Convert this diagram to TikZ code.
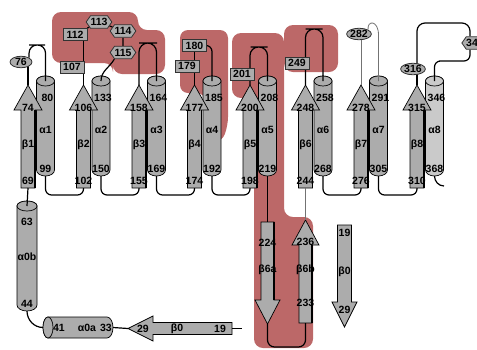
\documentclass[tikz,border=0pt]{standalone}
\usepackage{fontspec}
\setmainfont{Liberation Sans}
\usetikzlibrary{shapes.geometric,shapes.symbols,calc}

\definecolor{hgray}{RGB}{172,172,172}
\definecolor{lgray}{RGB}{202,202,202}
\definecolor{loopred}{RGB}{188,104,104}

\pgfdeclarelayer{bg}
\pgfdeclarelayer{shapes}
\pgfdeclarelayer{links}
\pgfsetlayers{bg,shapes,links,main}

\tikzset{
  lbl/.style={inner sep=0pt,font=\fontsize{10.5}{11}\selectfont\bfseries},
  resbox/.style={lbl,draw=black!80,fill=hgray,line width=0.8pt,minimum width=24pt,minimum height=12pt},
  resell/.style={lbl,ellipse,draw=black!80,fill=hgray,line width=0.8pt,minimum width=22pt,minimum height=11.5pt},
  reshex/.style={lbl,signal,signal to=east and west,signal pointer angle=110,draw=black!80,fill=hgray,line width=0.8pt,minimum width=25pt,minimum height=12.5pt},
  link/.style={line width=1.2pt},
  thinlink/.style={line width=0.8pt,black!55},
  shapeline/.style={draw=black,line width=0.7pt}
}

% helix: name, x, top, bottom, half width, colour
\newcommand\helixv[6]{%
  \filldraw[fill=#6,shapeline] ({#2-#5},#3) -- ({#2-#5},#4) arc[start angle=180,end angle=360,x radius=#5pt,y radius=6pt]
    -- ({#2+#5},#3) arc[start angle=0,end angle=180,x radius=#5pt,y radius=5pt] -- cycle;
  \filldraw[fill=#6,shapeline] (#2,#3) ellipse[x radius=#5pt,y radius=5pt];
  \coordinate (#1-top) at (#2,#3);
  \coordinate (#1-bot) at (#2,{#4+6});
}
% strand: name, x, tip, head base, tail, head half width, body half width
\newcommand\strand[7]{%
  \filldraw[fill=hgray,shapeline] (#2,#3) -- ({#2+#6},#4) -- ({#2+#7},#4) -- ({#2+#7},#5)
    -- ({#2-#7},#5) -- ({#2-#7},#4) -- ({#2-#6},#4) -- cycle;
  \draw[line width=1.6pt] ({#2+#7},#4) -- ({#2+#7},#5);
  \coordinate (#1-tip) at (#2,#3);
  \coordinate (#1-tail) at (#2,#5);
}

\begin{document}
\begin{tikzpicture}[x=1pt,y=-1pt]
\useasboundingbox (0,0) rectangle (477,349);

% loop regions
\begin{pgfonlayer}{bg}
\fill[loopred,rounded corners=9pt] (52,12) -- (138,12) -- (138,30) -- (165,30) -- (165,74) -- (113,74) -- (113,63) -- (52,63) -- cycle;
\fill[loopred,rounded corners=8pt] (180,30) -- (228,30) -- (228,125) -- (222,142) -- (205,142) -- (205,93) -- (180,93) -- cycle;
\fill[loopred,rounded corners=9pt] (232,33) -- (284,33) -- (284,217) -- (313,217) -- (313,348) -- (254,348) -- (254,98) -- (232,98) -- cycle;
\fill[loopred,rounded corners=9pt] (284,25) -- (338,25) -- (338,72) -- (284,72) -- cycle;
\end{pgfonlayer}

% beta-alpha units
\foreach \i/\xs/\sn/\sc/\hn/\hc/\col in {1/28/69/74/80/99/hgray,2/83.5/102/106/133/150/hgray,
    3/139/155/158/164/169/hgray,4/194.5/174/177/185/192/hgray,5/250/198/200/208/219/hgray,
    6/305.5/244/248/258/268/hgray,7/361/276/278/291/305/hgray,8/417/310/315/346/368/lgray}{
  \pgfmathsetmacro\xh{\xs+17.5}
  \begin{pgfonlayer}{shapes}
    \helixv{a\i}{\xh}{81}{170}{9}{\col}
    \strand{b\i}{\xs}{85}{110}{188}{14}{7}
  \end{pgfonlayer}
  \node[lbl] (b\i-c) at (\xs,107.5) {\sc};
  \node[lbl] (a\i-n) at ({\xh+2},97.5) {\hn};
  \node[lbl] (a\i-l) at (\xh,130) {α\i};
  \node[lbl] (b\i-l) at (\xs,145) {β\i};
  \node[lbl] (a\i-c) at (\xh,169) {\hc};
  \node[lbl] (b\i-n) at (\xs,181) {\sn};
}

% N-terminal and inserted elements
\begin{pgfonlayer}{shapes}
\helixv{a0b}{27}{206}{305}{10}{hgray}
\filldraw[fill=hgray,shapeline] (48,317) -- (107,317) arc[start angle=90,end angle=-90,x radius=6pt,y radius=10.5pt]
  -- (48,338) arc[start angle=270,end angle=90,x radius=5pt,y radius=10.5pt] -- cycle;
\filldraw[fill=hgray,shapeline] (48,327.5) ellipse[x radius=5pt,y radius=10.5pt];
\coordinate (a0a-left) at (43,327.5);
\coordinate (a0a-right) at (113,327.5);
\filldraw[fill=hgray,shapeline] (128,328.5) -- (153,316) -- (153,322.5) -- (232,322.5) -- (232,334.5) -- (153,334.5) -- (153,341) -- cycle;
\draw[line width=1.6pt] (153,322.5) -- (232,322.5);
\coordinate (b0h-tip) at (128,328.5);
\coordinate (b0h-tail) at (232,328.5);
\coordinate (b0h-end) at (242,328.5);
\strand{b6a}{267.5}{324}{300}{222}{12.5}{6.5}
\strand{b6b}{305.5}{220}{245}{323}{13.5}{6.5}
\strand{b0v}{344.5}{327}{302}{225}{12.5}{7}
\coordinate (a8-end) at (444,186);
\end{pgfonlayer}

\node[lbl] (a0b-n) at (27,222) {63};
\node[lbl] (a0b-l) at (27,257) {α0b};
\node[lbl] (a0b-c) at (27,304) {44};
\node[lbl] (a0a-n) at (59,328) {41};
\node[lbl] (a0a-l) at (87,328) {α0a};
\node[lbl] (a0a-c) at (106,328) {33};
\node[lbl] (b0h-c) at (143,329) {29};
\node[lbl] (b0h-l) at (177,329) {β0};
\node[lbl] (b0h-n) at (220,329) {19};
\node[lbl] (b6a-n) at (267.5,243) {224};
\node[lbl] (b6a-l) at (267.5,270) {β6a};
\node[lbl] (b6b-c) at (305.5,242) {236};
\node[lbl] (b6b-l) at (305.5,270) {β6b};
\node[lbl] (b6b-n) at (305.5,303) {233};
\node[lbl] (b0v-n) at (344.5,233) {19};
\node[lbl] (b0v-l) at (344.5,272) {β0};
\node[lbl] (b0v-c) at (344.5,310) {29};

% loop residues
\node[resell] (e76) at (21,62) {76};
\node[resbox] (n107) at (72,67) {107};
\node[resbox] (n112) at (75,34.5) {112};
\node[reshex] (h113) at (99,22) {113};
\node[reshex] (h114) at (123,31) {114};
\node[reshex] (h115) at (123,52.5) {115};
\node[resbox] (n179) at (187,66) {179};
\node[resbox] (n180) at (194.5,45.5) {180};
\node[resbox] (n201) at (242,74) {201};
\node[resbox] (n249) at (297,63) {249};
\node[resell] (e282) at (359,34) {282};
\node[resell] (e316) at (413,69) {316};
\node[reshex] (h34) at (475,43) {34\phantom{7}};

\begin{pgfonlayer}{links}
\draw[link] (b1-tip) -- (b1-tip |- e76.center);
\draw[link,rounded corners=8pt] (e76.north east) |- (37,45) -| (a1-top);
\draw[link] (b2-tip) -- (b2-tip |- n112.center);
\draw[link] (n112) -- (h113) -- (h114) -- (h115);
\draw[link] (h115.south west) to[out=-120,in=90] (a2-top);
\draw[link,rounded corners=9pt] (b3-tip) |- (148,43) -| (a3-top);
\draw[link] (b4-tip) -- (b4-tip |- n180.center);
\draw[link,rounded corners=6pt] (n180.center) -| (a4-top);
\draw[link,rounded corners=8.5pt] (b5-tip) |- (259,47) -| (a5-top);
\draw[link,rounded corners=8.5pt] (b6-tip) |- (314,29) -| (a6-top);
\draw[thinlink] (b7-tip) -- (b7-tip |- e282.center);
\draw[thinlink] (e282.north east) .. controls (367,20) and (378.5,20) .. (378.5,35) -- (a7-top);
\draw[link] (b8-tip) -- (b8-tip |- e316.center);
\draw[link,rounded corners=8pt] (b8-tip |- e316.center) |- (445,23) -| ($(h34.north)+(-5,0)$);
\draw[link,rounded corners=6pt] ($(h34.south)+(-5,0)$) |- (445,61) -| (a8-top);
\foreach \i/\j in {1/2,2/3,3/4,4/5,6/7,7/8}
  \draw[link,rounded corners=6pt] (a\i-bot) -- ++(0,19) -| (b\j-tail);
\draw[link] (a8-bot) to[out=-90,in=180] (a8-end);
\draw[link] (a5-bot) -- (b6a-tail);
\draw[link,rounded corners=7pt] (b6a-tip) |- (286,347) -| (b6b-tail);
\draw[thinlink] (b6-tail) -- (b6b-tip);
\draw[link] (b1-tail) -- (a0b-top);
\draw[link] (a0b-bot) to[out=-90,in=180] (a0a-left);
\draw[link] (a0a-right) -- (b0h-tip);
\draw[link] (b0h-tail) -- (b0h-end);
\end{pgfonlayer}
\end{tikzpicture}
\end{document}
